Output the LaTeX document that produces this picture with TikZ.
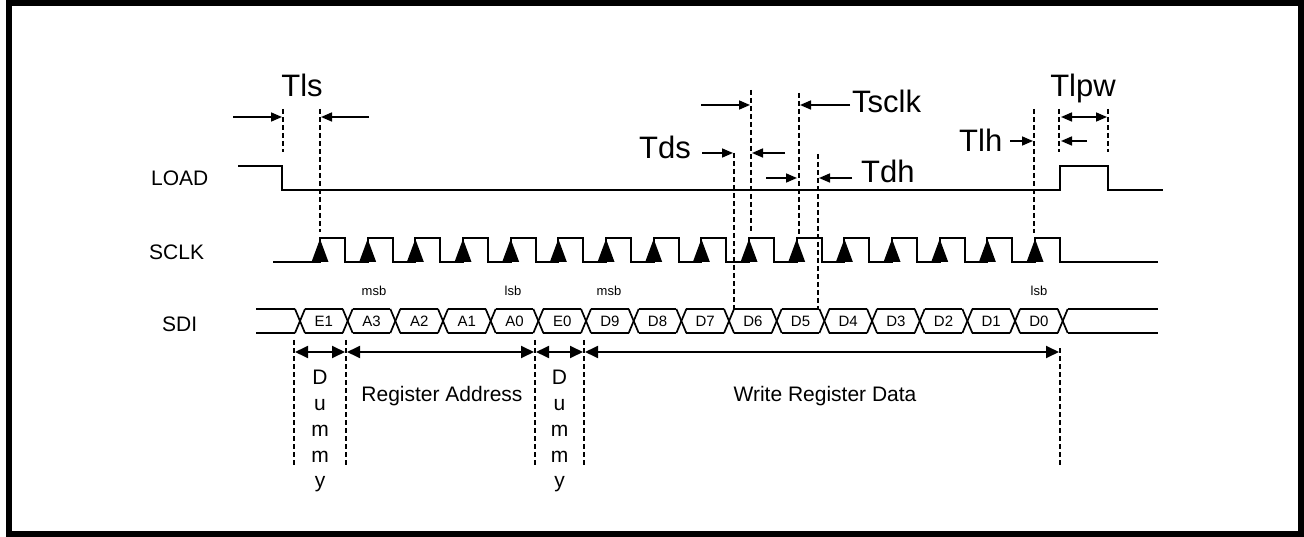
\documentclass[tikz,border=0pt]{standalone}
\usepackage{fontspec}
\setmainfont{Liberation Sans}
\usetikzlibrary{arrows.meta,positioning}
\tikzstyle{wave} = [line width=2pt]
\tikzstyle{busline} = [line width=1.7pt]
\tikzstyle{guideline} = [line width=1.8pt, dash pattern=on 5pt off 3pt]
\tikzstyle{dimarrow} = [line width=1.6pt, -{Triangle[length=11pt,width=9pt]}]
\tikzstyle{dimboth} = [line width=1.6pt, {Triangle[length=11pt,width=9pt]}-{Triangle[length=11pt,width=9pt]}]
\tikzstyle{spanarrow} = [line width=1.8pt, {Triangle[length=13pt,width=12pt]}-{Triangle[length=13pt,width=12pt]}]
\tikzstyle{tlabel} = [font=\fontsize{31}{36}\selectfont, inner sep=0pt]
\tikzstyle{siglabel} = [font=\fontsize{21}{25.8}\selectfont, inner sep=0pt]
\tikzstyle{buslabel} = [font=\fontsize{15}{17}\selectfont, inner sep=0pt]
\tikzstyle{bitlabel} = [font=\fontsize{13}{15}\selectfont, inner sep=0pt]

\begin{document}
\begin{tikzpicture}[x=1pt,y=-1pt]
	\useasboundingbox (0,0) rectangle (1304,537);
	\draw[line width=6pt] (9,3) rectangle (1301,534);
	
	% signal names
	\node[siglabel, anchor=base west] (load) at (151,186) {LOAD};
	\node[siglabel, anchor=base west] (sclk) at (149,260) {SCLK};
	\node[siglabel, anchor=base west] (sdi) at (162,331) {SDI};
	
	% LOAD
	\draw[wave] (238,166) -- (282,166) -- (282,190) -- (1060,190) -- (1060,166) -- (1108,166) -- (1108,190) -- (1163,190);
	
	% SCLK
	\draw[wave] (273,262) foreach \k in {0,...,15} { -- ({320+\k*47.67},262) -- ++(0,-24) -- ++(25,0) -- ++(0,24) } -- (1158,262);
	\foreach \k in {0,...,15}
		\fill ({320+\k*47.67},239) -- ++(8.5,23) -- ++(-17,0) -- cycle;
	
	% SDI
	\draw[busline] (256,309) -- (295,309) (256,333) -- (295,333);
	\draw[busline] (1068,309) -- (1158,309) (1068,333) -- (1158,333);
	\foreach \k in {0,...,16} {
		\draw[busline] ({300+\k*47.67-5},309) -- ({300+\k*47.67+5},333);
		\draw[busline] ({300+\k*47.67-5},333) -- ({300+\k*47.67+5},309);
	}
	\foreach \k in {0,...,15} {
		\draw[busline] ({300+\k*47.67+5},309) -- ({300+(\k+1)*47.67-5},309);
		\draw[busline] ({300+\k*47.67+5},333) -- ({300+(\k+1)*47.67-5},333);
	}
	\foreach \txt [count=\i from 0] in {E1,A3,A2,A1,A0,E0,D9,D8,D7,D6,D5,D4,D3,D2,D1,D0}
		\node[buslabel, anchor=base] (b\i) at ({300+(\i+0.5)*47.67},326.5) {\txt};
	\node[bitlabel, anchor=base] (msba) at (374,296) {msb};
	\node[bitlabel, anchor=base] (lsba) at (513,296) {lsb};
	\node[bitlabel, anchor=base] (msbd) at (609,296) {msb};
	\node[bitlabel, anchor=base] (lsbd) at (1039,296) {lsb};
	
	% Tls
	\draw[guideline] (283,109) -- (283,152);
	\draw[guideline] (320,109) -- (320,232);
	\draw[dimarrow] (233,117) -- (282,117);
	\draw[dimarrow] (369,117) -- (321,117);
	\node[tlabel, anchor=base] (tls) at (302,97) {Tls};
	
	% Tsclk, Tds, Tdh
	\draw[guideline] (751,90) -- (751,233);
	\draw[guideline] (799,93) -- (799,235);
	\draw[guideline] (734,153) -- (734,309);
	\draw[guideline] (818,154) -- (818,309);
	\draw[dimarrow] (701,105) -- (750,105);
	\draw[dimarrow] (850,105) -- (800,105);
	\draw[dimarrow] (702,153) -- (733,153);
	\draw[dimarrow] (785,153) -- (752,153);
	\draw[dimarrow] (766,178) -- (797,178);
	\draw[dimarrow] (852,178) -- (819,178);
	\node[tlabel, anchor=base west] (tsclk) at (852,113) {Tsclk};
	\node[tlabel, anchor=base west] (tds) at (639,159) {Tds};
	\node[tlabel, anchor=base west] (tdh) at (861,183) {Tdh};
	
	% Tlh, Tlpw
	\draw[guideline] (1034,109) -- (1034,233);
	\draw[guideline] (1059,109) -- (1059,152);
	\draw[guideline] (1108,109) -- (1108,152);
	\draw[dimarrow] (1010,141) -- (1033,141);
	\draw[dimarrow] (1087,141) -- (1061,141);
	\draw[dimboth] (1061,117) -- (1107,117);
	\node[tlabel, anchor=base west] (tlh) at (959,152) {Tlh};
	\node[tlabel, anchor=base] (tlpw) at (1083,97) {Tlpw};
	
	% frame fields
	\foreach \x in {294,346,535,584}
		\draw[guideline] (\x,340) -- (\x,467);
	\draw[guideline] (1060,348) -- (1060,467);
	\draw[spanarrow] (295,352) -- (345,352);
	\draw[spanarrow] (347,352) -- (534,352);
	\draw[spanarrow] (536,352) -- (583,352);
	\draw[spanarrow] (585,352) -- (1059,352);
	\node[siglabel, align=center, anchor=north] (dummy1) at (320,370) {D\\u\\m\\m\\y};
	\node[siglabel, align=center, anchor=north] (dummy2) at (559.5,370) {D\\u\\m\\m\\y};
	\node[siglabel, anchor=base] (regaddr) at (442,401) {Register Address};
	\node[siglabel, anchor=base] (regdata) at (825,401) {Write Register Data};
\end{tikzpicture}
\end{document}
